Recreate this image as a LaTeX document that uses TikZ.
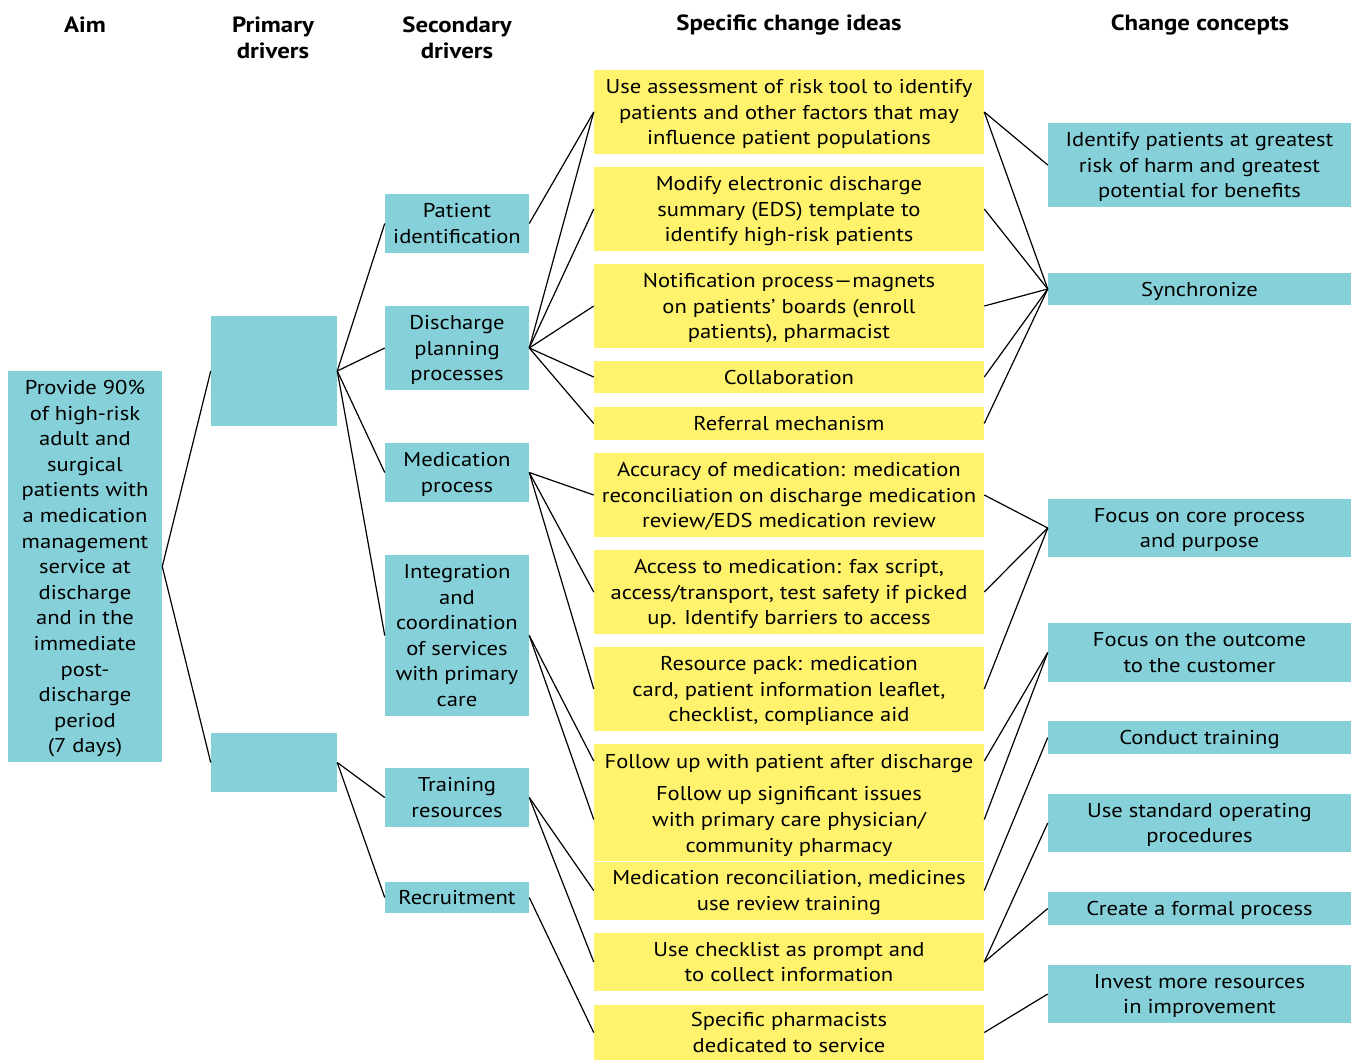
\documentclass[tikz,border=0pt]{standalone}
\usepackage{fontspec}
\setmainfont{PT Sans}[FakeStretch=1.13]
\definecolor{drvcyan}{RGB}{134,209,217}
\definecolor{ideayel}{RGB}{255,243,110}
\tikzstyle{drv} = [rectangle, fill=drvcyan, inner sep=0pt, align=center, text depth=0pt, font=\fontsize{15}{19.2}\selectfont]
\tikzstyle{idea} = [drv, fill=ideayel]
\tikzstyle{hdr} = [align=center, inner sep=0pt, font=\fontsize{16.5}{19.5}\selectfont\bfseries]
\tikzstyle{link} = [line width=0.9pt]

\begin{document}
\begin{tikzpicture}[x=0.75pt, y=-0.75pt,
  sz/.style 2 args={minimum width=#1*0.75pt, minimum height=#2*0.75pt}]
\useasboundingbox (0,0) rectangle (1351,1060);

% Headers
\node[hdr] (haim) at (85,24.5)   {Aim};
\node[hdr] (hpri) at (273,37.5)  {Primary\\drivers};
\node[hdr] (hsec) at (457,37.5)  {Secondary\\drivers};
\node[hdr] (hidea) at (789,24.5) {Specific change ideas};
\node[hdr] (hcon) at (1200,24.5) {Change concepts};

% Aim and drivers
\node[drv, sz={154}{391}] (aim) at (85,566.5) {Provide 90\%\\of high-risk\\adult and\\surgical\\patients with\\a medication\\management\\service at\\discharge\\and in the\\immediate\\post-\\discharge\\period\\(7 days)};
\node[drv, sz={126}{110}] (p1) at (274,371)   {};
\node[drv, sz={126}{59}]  (p2) at (274,762.5) {};

\node[drv, sz={144}{59}]  (s1) at (457,223.5) {Patient\\identification};
\node[drv, sz={144}{84}]  (s2) at (457,348)   {Discharge\\planning\\processes};
\node[drv, sz={144}{59}]  (s3) at (457,472.5) {Medication\\process};
\node[drv, sz={144}{161}] (s4) at (457,635.5) {Integration\\and\\coordination\\of services\\with primary\\care};
\node[drv, sz={144}{59}]  (s5) at (457,797.5) {Training\\resources};
\node[drv, sz={144}{31}]  (s6) at (457,897.5) {Recruitment};

% Change ideas
\node[idea, sz={390}{84}] (c1) at (789,112)    {Use assessment of risk tool to identify\\patients and other factors that may\\influence patient populations};
\node[idea, sz={390}{84}] (c2) at (789,209)    {Modify electronic discharge\\summary (EDS) template to\\identify high-risk patients};
\node[idea, sz={390}{84}] (c3) at (789,306)    {Notification process—magnets\\on patients’ boards (enroll\\patients), pharmacist};
\node[idea, sz={390}{32}] (c4) at (789,377)    {Collaboration};
\node[idea, sz={390}{33}] (c5) at (789,423.5)  {Referral mechanism};
\node[idea, sz={390}{84}] (c6) at (789,495)    {Accuracy of medication: medication\\reconciliation on discharge medication\\review/EDS medication review};
\node[idea, sz={390}{84}] (c7) at (789,592)    {Access to medication: fax script,\\access/transport, test safety if picked\\up. Identify barriers to access};
\node[idea, sz={390}{84}] (c8) at (789,689)    {Resource pack: medication\\card, patient information leaflet,\\checklist, compliance aid};
\node[idea, sz={390}{34}] (c9) at (789,761)    {Follow up with patient after discharge};
\node[idea, sz={390}{83}] (c10) at (789,819.5) {Follow up significant issues\\with primary care physician/\\community pharmacy};
\node[idea, sz={390}{58}] (c11) at (789,890.5) {Medication reconciliation, medicines\\use review training};
\node[idea, sz={390}{58}] (c12) at (789,962)   {Use checklist as prompt and\\to collect information};
\node[idea, sz={390}{55}] (c13) at (789,1032.5) {Specific pharmacists\\dedicated to service};

% Change concepts
\node[drv, sz={303}{84}] (k1) at (1199.5,165)   {Identify patients at greatest\\risk of harm and greatest\\potential for benefits};
\node[drv, sz={303}{32}] (k2) at (1199.5,289)   {Synchronize};
\node[drv, sz={303}{58}] (k3) at (1199.5,528)   {Focus on core process\\and purpose};
\node[drv, sz={303}{59}] (k4) at (1199.5,652.5) {Focus on the outcome\\to the customer};
\node[drv, sz={303}{33}] (k5) at (1199.5,737.5) {Conduct training};
\node[drv, sz={303}{58}] (k6) at (1199.5,823)   {Use standard operating\\procedures};
\node[drv, sz={303}{33}] (k7) at (1199.5,908.5) {Create a formal process};
\node[drv, sz={303}{58}] (k8) at (1199.5,994)   {Invest more resources\\in improvement};

% Edges
\foreach \a/\b in {aim/p1, aim/p2,
                   p1/s1, p1/s2, p1/s3, p1/s4, p2/s5, p2/s6,
                   s1/c1, s2/c1, s2/c2, s2/c3, s2/c4, s2/c5,
                   s3/c6, s3/c7, s3/c8, s4/c9, s4/c10,
                   s5/c11, s5/c12, s6/c13,
                   c1/k1, c1/k2, c2/k2, c3/k2, c4/k2, c5/k2,
                   c6/k3, c7/k3, c8/k3, c9/k4, c10/k4,
                   c11/k5, c12/k6, c12/k7, c13/k8}
  \draw[link] (\a.east) -- (\b.west);
\end{tikzpicture}
\end{document}
